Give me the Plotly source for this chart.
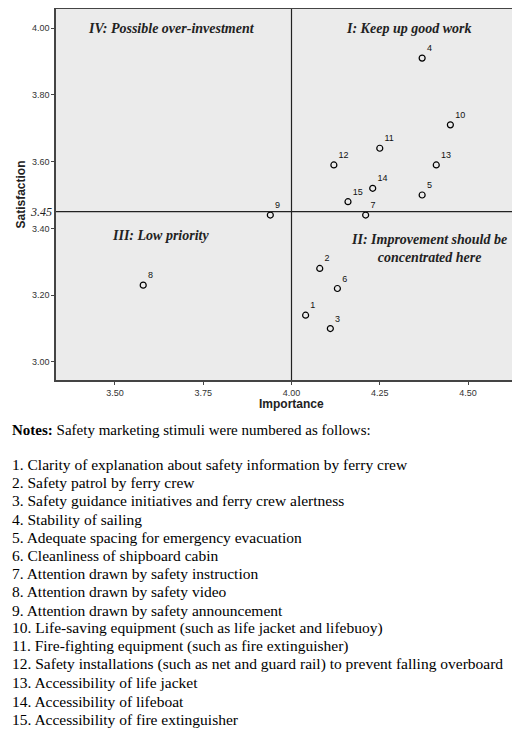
import plotly.graph_objects as go

labels = [str(i) for i in range(1, 16)]
importance = [4.04, 4.08, 4.11, 4.37, 4.37, 4.13, 4.21, 3.58, 3.94, 4.45, 4.25, 4.12, 4.41, 4.23, 4.16]
satisfaction = [3.14, 3.28, 3.10, 3.91, 3.50, 3.22, 3.44, 3.23, 3.44, 3.71, 3.64, 3.59, 3.59, 3.52, 3.48]
x_ticks = [3.50, 3.75, 4.00, 4.25, 4.50]
y_ticks = [3.00, 3.20, 3.40, 3.60, 3.80, 4.00]
x_mean, y_mean = 4.00, 3.45
quadrants = [("IV: Possible over-investment", 3.66, 4.00), ("I: Keep up good work", 4.33, 4.00),
             ("III: Low priority", 3.63, 3.38), ("II: Improvement should be<br>concentrated here", 4.39, 3.34)]
notes = ["1. Clarity of explanation about safety information by ferry crew",
         "2. Safety patrol by ferry crew",
         "3. Safety guidance initiatives and ferry crew alertness",
         "4. Stability of sailing",
         "5. Adequate spacing for emergency evacuation",
         "6. Cleanliness of shipboard cabin",
         "7. Attention drawn by safety instruction",
         "8. Attention drawn by safety video",
         "9. Attention drawn by safety announcement",
         "10. Life-saving equipment (such as life jacket and lifebuoy)",
         "11. Fire-fighting equipment (such as fire extinguisher)",
         "12. Safety installations (such as net and guard rail) to prevent falling overboard",
         "13. Accessibility of life jacket",
         "14. Accessibility of lifeboat",
         "15. Accessibility of fire extinguisher"]

fig = go.Figure(go.Scatter(x=importance, y=satisfaction, mode="markers+text", text=labels,
    textposition="top right", textfont=dict(family="Arial", size=9, color="#111"),
    marker=dict(symbol="circle-open", size=6, color="black", line=dict(width=1.2))))
fig.add_shape(type="line", x0=x_mean, x1=x_mean, y0=0, y1=1, yref="paper", line=dict(color="#222", width=1.2))
fig.add_shape(type="line", y0=y_mean, y1=y_mean, x0=0, x1=1, xref="paper", line=dict(color="#222", width=1.2))
for t, x, y in quadrants:
    fig.add_annotation(x=x, y=y, text="<b><i>" + t + "</i></b>", showarrow=False,
                       font=dict(family="Liberation Serif", size=14, color="#222"), yanchor="middle")
fig.add_annotation(x=0, xref="paper", y=y_mean, text="<i>3.45</i>", showarrow=False, xanchor="right", xshift=-2,
                   font=dict(family="Liberation Serif", size=12, color="#222"))
H = 371
W = 471
def py(p): return (372 - p) / H
fig.add_annotation(x=0.5, xref="paper", y=py(405), yref="paper", text="<b>Importance</b>", showarrow=False,
                   font=dict(family="Arial", size=12, color="#222"))
fig.add_annotation(x=-46/W, xref="paper", y=py(432), yref="paper", xanchor="left",
                   text="<b>Notes:</b> Safety marketing stimuli were numbered as follows:", showarrow=False,
                   font=dict(family="Liberation Serif", size=15, color="black"))
for i, n in enumerate(notes):
    fig.add_annotation(x=-46/W, xref="paper", y=py(467 + i * 18.2), yref="paper", xanchor="left",
                       text=n, showarrow=False, font=dict(family="Liberation Serif", size=15.5, color="black"))
fig.update_layout(width=520, height=733, margin=dict(l=48, r=1, t=1, b=361, autoexpand=False),
    plot_bgcolor="#ebebeb", paper_bgcolor="white", showlegend=False,
    xaxis=dict(range=[3.333, 4.667], tickvals=x_ticks, tickformat=".2f", showgrid=False, zeroline=False,
               automargin=False,
               showline=True, linecolor="#444", mirror=True, linewidth=1.5, ticks="outside", ticklen=3,
               tickfont=dict(family="Arial", size=9, color="#333")),
    yaxis=dict(range=[2.946, 4.057], tickvals=y_ticks, tickformat=".2f", showgrid=False, zeroline=False,
               automargin=False,
               showline=True, linecolor="#444", mirror=True, linewidth=1.5, ticks="outside", ticklen=3,
               tickfont=dict(family="Arial", size=9, color="#333"),
               title=dict(text="<b>Satisfaction</b>", font=dict(family="Arial", size=12, color="#222"), standoff=4)))
fig.write_html("out.html")
